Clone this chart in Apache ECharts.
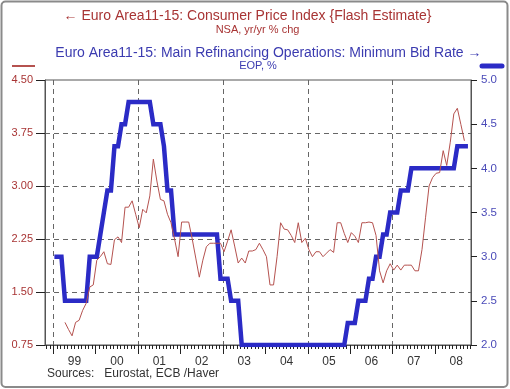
<!DOCTYPE html>
<html><head><meta charset="utf-8">
<script src="https://cdn.jsdelivr.net/npm/echarts@6/dist/echarts.min.js"></script>
<style>html,body{margin:0;padding:0;background:#fff}#c{width:510px;height:389px}</style>
</head><body><div id="c"></div>
<script>
// Euro area HICP flash estimate, yr/yr % chg (monthly)
const cpi1999 = [1.07,0.97,0.88,1.07,1.10,1.24,1.34,1.57,1.60]; // Apr–Dec
const cpi2000 = [1.95,2.00,2.07,1.90,1.89,2.24,2.28,2.20,2.70,2.70,2.79,2.60];
const cpi2001 = [2.41,2.67,2.62,2.86,3.38,3.07,2.81,2.79,2.60,2.48,2.25,2.00];
const cpi2002 = [2.49,2.49,2.49,2.25,1.98,1.71,1.95,2.14,2.19,2.19,2.19,2.19];
const cpi2003 = [2.07,2.22,2.38,2.15,1.91,1.98,1.91,2.08,2.08,2.10,2.19,2.10];
const cpi2004 = [2.00,1.60,1.60,2.00,2.48,2.39,2.38,2.30,2.20,2.48,2.20,2.26];
const cpi2005 = [2.10,2.00,2.07,2.07,2.00,2.05,2.10,2.06,2.48,2.48,2.33,2.20];
const cpi2006 = [2.34,2.29,2.20,2.48,2.48,2.49,2.48,2.30,1.80,1.63,1.80,1.90];
const cpi2007 = [1.81,1.88,1.81,1.88,1.88,1.88,1.80,1.80,2.10,2.55,3.00,3.12];
const cpi2008 = [3.18,3.19,3.50,3.29,3.62,4.02,4.10,3.87,3.64]; // Jan–Sep

// ECB main refinancing rate, end of period (monthly)
const rate1999 = [3.00,3.00,3.00,2.50,2.50,2.50,2.50,2.50,2.50,2.50,3.00,3.00];
const rate2000 = [3.00,3.25,3.50,3.75,3.75,4.25,4.25,4.50,4.50,4.75,4.75,4.75];
const rate2001 = [4.75,4.75,4.75,4.75,4.50,4.50,4.50,4.25,3.75,3.75,3.25,3.25];
const rate2002 = [3.25,3.25,3.25,3.25,3.25,3.25,3.25,3.25,3.25,3.25,3.25,2.75];
const rate2003 = [2.75,2.75,2.50,2.50,2.50,2.00,2.00,2.00,2.00,2.00,2.00,2.00];
const rate2004 = [2.00,2.00,2.00,2.00,2.00,2.00,2.00,2.00,2.00,2.00,2.00,2.00];
const rate2005 = [2.00,2.00,2.00,2.00,2.00,2.00,2.00,2.00,2.00,2.00,2.00,2.25];
const rate2006 = [2.25,2.25,2.50,2.50,2.50,2.75,2.75,3.00,3.00,3.25,3.25,3.50];
const rate2007 = [3.50,3.50,3.75,3.75,3.75,4.00,4.00,4.00,4.00,4.00,4.00,4.00];
const rate2008 = [4.00,4.00,4.00,4.00,4.00,4.00,4.25,4.25,4.25,4.25]; // Jan–Oct

const leftTicks = [0.75, 1.50, 2.25, 3.00, 3.75, 4.50];
const rightTicks = [2.0, 2.5, 3.0, 3.5, 4.0, 4.5, 5.0];
const yearLabels = ['99','00','01','02','03','04','05','06','07','08'];

const firstYear = 1999;
const monthOffset = 0.3;           // monthly points drawn slightly after month start
const X_MIN = 1998.804, X_MAX = 2008.847;
const toX = (m) => firstYear + (m + monthOffset) / 12;

function build(arrays, startMonth) {
  const out = [];
  let m = startMonth;
  arrays.forEach(a => a.forEach(v => { out.push([toX(m), v]); m++; }));
  return out;
}
const cpiData = build([cpi1999,cpi2000,cpi2001,cpi2002,cpi2003,cpi2004,cpi2005,cpi2006,cpi2007,cpi2008], 3);
const rateData = build([rate1999,rate2000,rate2001,rate2002,rate2003,rate2004,rate2005,rate2006,rate2007,rate2008], 0);

const monthTicks = [], janTicks = [], gridYears = [], labelPos = [];
for (let m = -2; m <= 118; m++) monthTicks.push(firstYear + m / 12);
yearLabels.forEach((s, i) => {
  janTicks.push(firstYear + i);
  labelPos.push(firstYear + i + 0.5);
  if (i % 2 === 0) gridYears.push(firstYear + i);
});

const FONT = 'Liberation Sans, Arial, sans-serif';
const RED_TXT = '#a83434', BLUE_TXT = '#3b3bb0';
const dash = {type: [5, 4], color: '#666', width: 1};
const tickStyle = {color: '#222', width: 1};

const baseX = {type: 'value', min: X_MIN, max: X_MAX, position: 'bottom',
  axisLine: {show: false}, axisLabel: {show: false}, axisTick: {show: false}, splitLine: {show: false}};

const chart = echarts.init(document.getElementById('c'), null, {renderer: 'canvas'});
chart.setOption({
  animation: false,
  backgroundColor: '#fff',
  grid: {left: 45, right: 39, top: 80, bottom: 44, show: true, borderColor: '#555', borderWidth: 1, backgroundColor: 'transparent'},
  xAxis: [
    Object.assign({}, baseX, {
      axisLine: {show: true, lineStyle: {color: '#555', width: 1}},
      axisTick: {show: true, customValues: monthTicks, length: 4, lineStyle: tickStyle}
    }),
    Object.assign({}, baseX, {
      axisTick: {show: true, customValues: janTicks, length: 9, lineStyle: tickStyle}
    }),
    Object.assign({}, baseX, {
      axisTick: {show: false, customValues: gridYears},
      splitLine: {show: true, lineStyle: dash}
    }),
    Object.assign({}, baseX, {
      axisLabel: {show: true, customValues: labelPos, margin: 11, fontSize: 12, fontFamily: FONT, color: '#333',
        formatter: v => yearLabels[Math.floor(v) - firstYear]}
    })
  ],
  yAxis: [
    {type: 'value', position: 'left', min: leftTicks[0], max: leftTicks[leftTicks.length - 1], interval: 0.75,
      axisLine: {show: true, lineStyle: {color: '#555'}},
      axisTick: {show: true, inside: false, length: 9, customValues: leftTicks, lineStyle: tickStyle},
      axisLabel: {fontSize: 11, fontFamily: FONT, color: RED_TXT, margin: 12, formatter: v => v.toFixed(2)},
      splitLine: {show: true, showMinLine: false, showMaxLine: false, lineStyle: dash}},
    {type: 'value', position: 'right', min: rightTicks[0], max: rightTicks[rightTicks.length - 1], interval: 0.5,
      axisLine: {show: true, lineStyle: {color: '#555'}},
      axisTick: {show: true, inside: false, length: 6, customValues: rightTicks, lineStyle: tickStyle},
      axisLabel: {fontSize: 11.5, fontFamily: FONT, color: '#4a4ab8', margin: 10, formatter: v => v.toFixed(1)},
      splitLine: {show: false}}
  ],
  series: [
    {name: 'MRO', type: 'line', xAxisIndex: 0, yAxisIndex: 1, data: rateData, showSymbol: false,
      lineStyle: {color: '#2b2bc6', width: 4.5, join: 'miter'}, z: 3},
    {name: 'CPI', type: 'line', xAxisIndex: 0, yAxisIndex: 0, data: cpiData, showSymbol: false,
      lineStyle: {color: '#b5524f', width: 1}, z: 4}
  ],
  graphic: [
    {type: 'rect', shape: {x: 1.5, y: 1.5, width: 506, height: 385.5, r: 4}, style: {fill: 'none', stroke: '#8a8a8a', lineWidth: 2}, silent: true},
    {type: 'text', x: 247.5, y: 16, style: {text: '\u2190 Euro Area11-15: Consumer Price Index {Flash Estimate}', font: '14px ' + FONT, fill: RED_TXT, align: 'center', verticalAlign: 'middle'}},
    {type: 'text', x: 257.5, y: 29.5, style: {text: 'NSA, yr/yr % chg', font: '11px ' + FONT, fill: RED_TXT, align: 'center', verticalAlign: 'middle'}},
    {type: 'text', x: 268.4, y: 53.5, style: {text: 'Euro Area11-15: Main Refinancing Operations: Minimum Bid Rate \u2192', font: '14px ' + FONT, fill: BLUE_TXT, align: 'center', verticalAlign: 'middle'}},
    {type: 'text', x: 258, y: 65.5, style: {text: 'EOP, %', font: '11px ' + FONT, fill: BLUE_TXT, align: 'center', verticalAlign: 'middle'}},
    {type: 'line', shape: {x1: 12, y1: 66, x2: 35, y2: 66}, style: {stroke: '#b5524f', lineWidth: 2}},
    {type: 'line', shape: {x1: 482, y1: 66, x2: 502, y2: 66}, style: {stroke: '#2b2bc6', lineWidth: 5, lineCap: 'round'}},
    {type: 'text', x: 47, y: 374, style: {text: 'Sources:   Eurostat, ECB /Haver', font: '12px ' + FONT, fill: '#333', align: 'left', verticalAlign: 'middle'}}
  ]
});
</script>
</body></html>
